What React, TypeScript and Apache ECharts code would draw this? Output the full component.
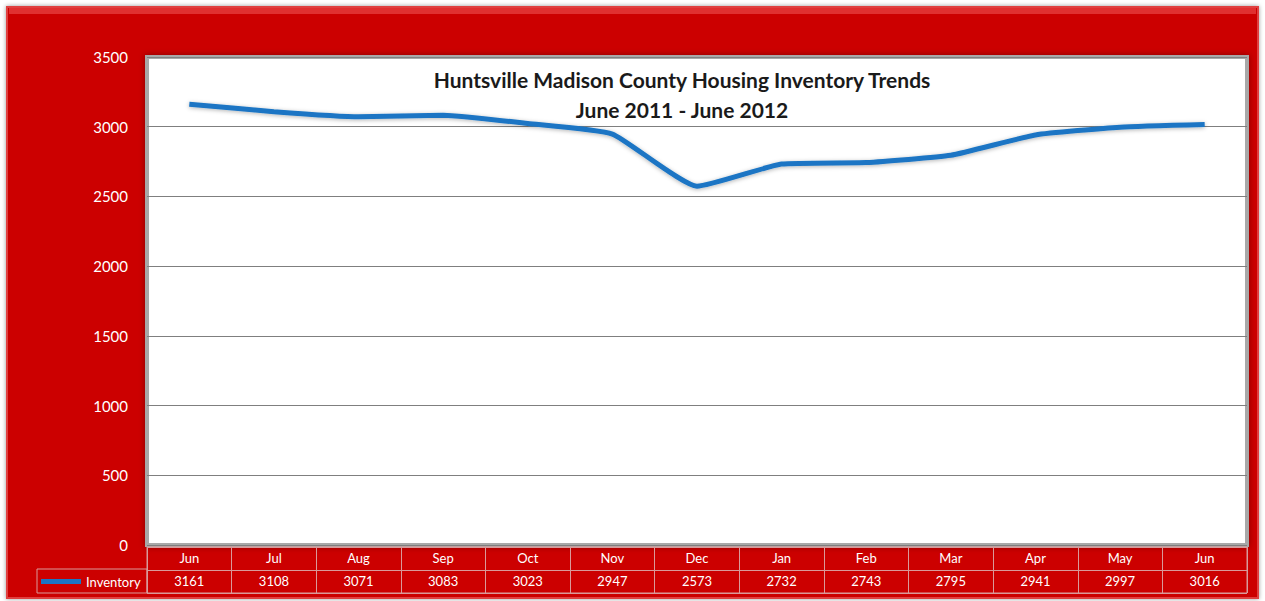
import React, { useEffect, useRef } from "react";
import * as echarts from "echarts";

const months = ["Jun", "Jul", "Aug", "Sep", "Oct", "Nov", "Dec", "Jan", "Feb", "Mar", "Apr", "May", "Jun"];
const inventory = [3161, 3108, 3071, 3083, 3023, 2947, 2573, 2732, 2743, 2795, 2941, 2997, 3016];
const yTicks = { min: 0, max: 3500, interval: 500 };
const titleLines = ["Huntsville Madison County Housing Inventory Trends", "June 2011 - June 2012"];
const seriesName = "Inventory";

const FONT = "Lato, 'Open Sans', sans-serif";

export default function App() {
  const ref = useRef<HTMLDivElement>(null);
  useEffect(() => {
    const chart = echarts.init(ref.current!, null, { renderer: "svg" });
    const L = 147, T = 57, W = 1100, H = 488;
    chart.setOption({
      animation: false,
      backgroundColor: "#ffffff",
      title: {
        text: titleLines.join("\n"),
        left: 677,
        textAlign: "center",
        top: 59,
        textStyle: { fontFamily: FONT, fontWeight: "bold", fontSize: 21, color: "#1a1a1a", lineHeight: 30 },
      },
      legend: {
        left: 36,
        top: 570,
        itemWidth: 40,
        itemHeight: 5,
        itemGap: 4,
        icon: "rect",
        data: [seriesName],
        textStyle: { color: "#ffffff", fontFamily: FONT, fontSize: 13, padding: [0, 0, 0, 0] },
      },
      graphic: [
        {
          type: "rect",
          z: -10,
          shape: { x: 7, y: 7, width: 1251, height: 591 },
          style: { fill: "#cc0000", stroke: "#e04040", lineWidth: 2, shadowBlur: 4, shadowColor: "rgba(0,0,0,0.4)" },
        },
        {
          type: "rect",
          z: -9,
          shape: { x: 9, y: 8, width: 1247, height: 6 },
          style: { fill: "#e03030" },
        },
        {
          type: "rect",
          z: -8,
          shape: { x: L, y: T, width: W, height: H },
          style: { fill: "#ffffff", stroke: "#a8a8a8", lineWidth: 4, shadowBlur: 6, shadowColor: "rgba(0,0,0,0.35)" },
        },
        {
          type: "rect",
          z: -7,
          shape: { x: 37, y: 569, width: 110, height: 24 },
          style: { fill: "none", stroke: "#d99a9a", lineWidth: 1 },
        },
      ],
      grid: [
        { left: L, top: T, width: W, height: H, containLabel: false },
        { left: L, top: 547, width: W, height: 46, show: true, borderColor: "#d99a9a", borderWidth: 1 },
      ],
      xAxis: [
        {
          type: "category",
          gridIndex: 0,
          data: months,
          boundaryGap: true,
          axisLine: { show: false },
          axisTick: { show: false },
          axisLabel: { color: "#ffffff", fontFamily: FONT, fontSize: 13, margin: 6 },
        },
        {
          type: "category",
          gridIndex: 0,
          position: "bottom",
          offset: 24,
          data: inventory.map(String),
          boundaryGap: true,
          axisLine: { show: false },
          axisTick: { show: false },
          axisLabel: { color: "#ffffff", fontFamily: FONT, fontSize: 13, margin: 5 },
        },
        {
          type: "category",
          gridIndex: 1,
          data: months,
          boundaryGap: true,
          axisLine: { show: false },
          axisTick: { show: false },
          axisLabel: { show: false },
          splitLine: { show: true, lineStyle: { color: "#d99a9a", width: 1 } },
        },
      ],
      yAxis: [
        {
          type: "value",
          gridIndex: 0,
          min: yTicks.min,
          max: yTicks.max,
          interval: yTicks.interval,
          axisLine: { show: false },
          axisTick: { show: false },
          axisLabel: { color: "#ffffff", fontFamily: FONT, fontSize: 15, margin: 19, formatter: (v: number) => String(v) },
          splitLine: { show: true, lineStyle: { color: "#7f7f7f", width: 1 } },
        },
        {
          type: "category",
          gridIndex: 1,
          data: ["a", "b"],
          boundaryGap: true,
          axisLine: { show: false },
          axisTick: { show: false },
          axisLabel: { show: false },
          splitLine: { show: true, lineStyle: { color: "#d99a9a", width: 1 } },
        },
      ],
      series: [
        {
          name: seriesName,
          type: "line",
          xAxisIndex: 0,
          yAxisIndex: 0,
          data: inventory,
          smooth: 0.15,
          symbol: "none",
          lineStyle: { color: "#1b75c4", width: 5, shadowBlur: 4, shadowColor: "rgba(0,0,0,0.3)", shadowOffsetY: 1 },
          itemStyle: { color: "#1b75c4" },
        },
      ],
    });
    return () => chart.dispose();
  }, []);
  return (
    <div style={{ position: "fixed", left: 0, top: 0 }}>
      <div ref={ref} style={{ width: 1265, height: 601 }} />
    </div>
  );
}
